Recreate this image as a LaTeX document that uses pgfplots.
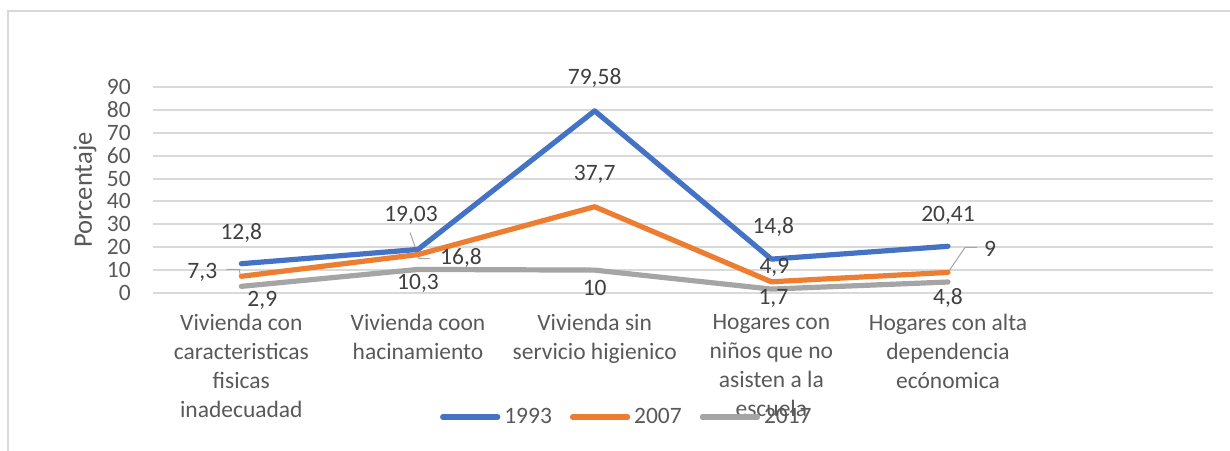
\documentclass[border=0pt]{standalone}
\usepackage{pgfplots}
\pgfplotsset{compat=1.18}
\usepackage{pgfplotstable}
\usepackage{fontspec}
\setmainfont{Carlito}
\definecolor{cA}{HTML}{4472C4}
\definecolor{cB}{HTML}{ED7D31}
\definecolor{cC}{HTML}{A5A5A5}
\definecolor{txt}{HTML}{595959}
\definecolor{lbl}{HTML}{404040}
\definecolor{gridc}{HTML}{D9D9D9}
\definecolor{lead}{HTML}{A6A6A6}

\pgfplotstableread{
x y dx dy
0 12.8 0 15.5
1 19.03 -3.5 17
2 79.58 0 16.5
3 14.8 1 16
4 20.41 0 15.5
}\tA
\pgfplotstableread{
x y dx dy
0 7.3 -19.5 2
1 16.8 21.5 -1.5
2 37.7 0 16
3 4.9 1.5 7
4 9 21 12
}\tB
\pgfplotstableread{
x y dx dy
0 2.9 10.5 -7
1 10.3 0 -7
2 10 0 -9
3 1.7 1 -4.5
4 4.8 0 -8
}\tC

\begin{document}
\begin{tikzpicture}
\path[use as bounding box] (-76.5pt,-78.5pt) rectangle (538.5pt,146.5pt);
\draw[gridc, line width=0.6pt] (-72.5pt,-80pt) -- (-72.5pt,141pt) -- (540pt,141pt);
\begin{axis}[
  at={(0,0)}, anchor=south west,
  scale only axis, width=530pt, height=103pt,
  xmin=-0.5, xmax=5.5, ymin=0, ymax=90,
  axis line style={draw=none},
  tick style={draw=none},
  ytick={0,10,...,90},
  ymajorgrids, grid style={gridc, line width=1pt},
  xtick={0,1,2,3,4},
  xticklabels={
    {Vivienda con\\caracteristicas\\fisicas\\inadecuadad},
    {Vivienda coon\\hacinamiento},
    {Vivienda sin\\servicio higienico},
    {Hogares con\\niños que no\\asisten a la\\escuela},
    {Hogares con alta\\dependencia\\ecónomica}},
  xticklabel style={align=center, anchor=north, yshift=-7pt, text=txt,
    font=\fontsize{11.75}{14.5}\selectfont},
  yticklabel style={text=txt, xshift=-7.6pt, font=\fontsize{11.75}{14.5}\selectfont},
  /pgf/number format/assume math mode=true,
  legend columns=3,
  legend style={at={(0.448,-0.602)}, anchor=center, draw=none, fill=none,
    font=\fontsize{11.75}{14.5}\selectfont, text=txt,
    /tikz/every even column/.append style={column sep=7pt}},
  legend image code/.code={\draw[#1] (0pt,0pt) -- (27.5pt,0pt);},
  every axis plot/.append style={line width=2.6pt, line cap=round, line join=round},
  nodes near coords={\pgfmathprintnumber[use comma,fixed,precision=2]{\pgfplotspointmeta}},
  point meta=y,
  visualization depends on={\thisrow{dx}\as\dx},
  visualization depends on={\thisrow{dy}\as\dy},
  every node near coord/.append style={anchor=center, xshift=\dx pt, yshift=\dy pt,
    text=lbl, font=\fontsize{11.75}{14.5}\selectfont, inner sep=0pt},
]
\draw[lead, line width=0.5pt] ([shift={(-4pt,8.5pt)}]axis cs:1,19.03) -- ([shift={(-1pt,0pt)}]axis cs:1,19.03);
\draw[lead, line width=0.5pt] ([shift={(0pt,-0.5pt)}]axis cs:1,16.8) -- ([shift={(0.5pt,-2pt)}]axis cs:1,16.8) -- ([shift={(6pt,-2pt)}]axis cs:1,16.8);
\draw[lead, line width=0.5pt] ([shift={(-7.5pt,3.5pt)}]axis cs:0,7.3) -- ([shift={(-1pt,3.5pt)}]axis cs:0,7.3) -- ([shift={(-0.5pt,0pt)}]axis cs:0,7.3);
\draw[lead, line width=0.5pt] (axis cs:4,9) -- ([shift={(8.5pt,12.5pt)}]axis cs:4,9) -- ([shift={(14.5pt,12.5pt)}]axis cs:4,9);
\addplot[cA] table[x=x, y=y] {\tA};
\addlegendentry{1993}
\addplot[cB] table[x=x, y=y] {\tB};
\addlegendentry{2007}
\addplot[cC] table[x=x, y=y] {\tC};
\addlegendentry{2017}
\end{axis}
\node[rotate=90, text=txt, font=\fontsize{13.3}{16}\selectfont] at (-34pt,51.5pt) {Porcentaje};
\end{tikzpicture}
\end{document}
